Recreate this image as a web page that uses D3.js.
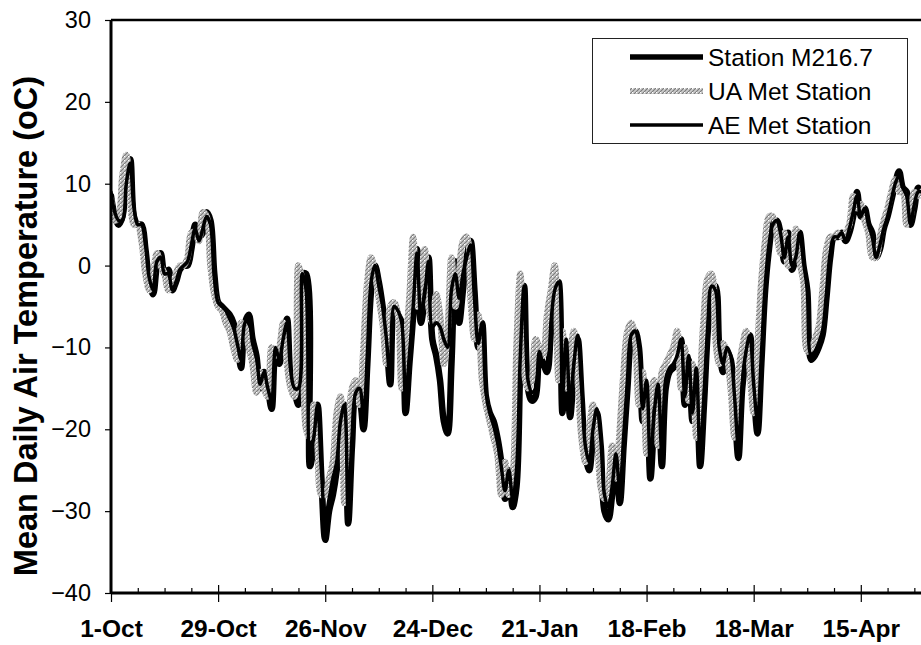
<!DOCTYPE html>
<html>
<head>
<meta charset="utf-8">
<script src="https://cdn.jsdelivr.net/npm/d3@7"></script>
<style>
  html, body { margin: 0; padding: 0; background: #fff; }
  svg { display: block; }
</style>
</head>
<body>
<svg id="chart" width="921" height="645"></svg>
<script>
// Day 0 = 1 October; one value per day through 1 May (day 212).
const dayCount = 212;

// Major tick positions (days since 1-Oct) and their labels.
const tickDays = [0, 28, 56, 84, 112, 140, 168, 196];
const tickLabels = ["1-Oct", "29-Oct", "26-Nov", "24-Dec", "21-Jan", "18-Feb", "18-Mar", "15-Apr"];
const minorTickDays = [7, 14, 21, 35, 42, 49, 63, 70, 77, 91, 98, 105, 119, 126, 133,
                       147, 154, 161, 175, 182, 189, 203, 210];
const yTicks = [-40, -30, -20, -10, 0, 10, 20, 30];

const seriesNames = ["Station M216.7", "UA Met Station", "AE Met Station"];

// Mean daily air temperature (oC), Station M216.7
const stationM = [
  8.5, 6, 5, 6, 11, 13, 6, 5, 5, 2,
  -2, -3.5, 0, 1.5, -1, -0.5, -3, -2, -0.5, 0,
  0, 2, 5, 3.5, 4, 6.5, 5.5, -1, -4.5, -5,
  -5.5, -6, -7, -9, -12.5, -7, -6, -9, -11, -15,
  -13, -15, -17.5, -10.5, -12, -9, -6.5, -14, -15.5, -17,
  -1, -1, -24.5, -22, -17, -26, -33.5, -30, -28, -25,
  -20, -17, -31.5, -22, -16, -16.5, -20, -12, -3, 0,
  -2, -5, -9, -14.5, -5, -6, -7, -18, -12, -6,
  2, -7, -4, 1, -9, -11, -14, -19, -20.5, -12,
  0.5, -7, -3, 1, 3, -3, -10, -7, -16, -18,
  -19, -21, -24, -28.5, -25, -29.5, -27, -12, -2.5, -15,
  -16.5, -16, -11, -12, -13, -8, -4, -2, -18, -9.5,
  -18.5, -13, -9, -16, -23, -25, -21, -18, -22, -30,
  -31, -28, -23.5, -29, -22, -15, -9, -8, -10, -19,
  -15, -26, -19, -15, -24.5, -15, -13, -12.5, -12, -9,
  -17, -11.5, -19, -13, -24.5, -17, -8, -3, -2.5, -10,
  -13, -10.5, -11.5, -17, -23.5, -15, -11, -8.5, -15, -20.5,
  -12, -3, 2, 5, 5.5, 4, 0.5, 4, -0.5, 1,
  4, 0, -3, -11.5, -11, -10, -8.5, -4, 1, 3.5,
  3.5, 4, 3, 4, 6, 9, 6, 7, 5, 4,
  1, 2, 4.5, 6, 8, 10, 11.5, 9.5, 9, 5,
  7, 9.5, 9
];

// Mean daily air temperature (oC), UA Met Station
const uaMet = [
  8, 5.5, 6, 11, 13.5, 8, 5, 5, 3, -1,
  -3, -1, 1.5, 0, -1, -3, -2.5, -1, 0, 0,
  1, 4, 4, 3, 6.5, 6, 0, -3.5, -5, -5.5,
  -7, -8, -10, -11.5, -7, -7.5, -10, -12, -15.5, -13,
  -15, -16, -10, -11, -10, -7, -12, -15, -16, 0,
  -2, -20, -21, -17, -22, -28, -28, -26, -24, -18,
  -16, -29, -20, -15, -14, -17, -10, -2, 1, -1,
  -4, -7, -12, -5, -4.5, -6, -15, -10, -4, 3.5,
  -5, -2, 2, -5, -7, -3.5, -6, -12, -8, 1,
  -5, -1, 3, 3.5, -4, -9, -6, -14, -17, -19,
  -21, -23, -28, -24, -28, -26, -10, -1, -13, -15,
  -14, -9, -10, -11, -6, -3, 0, -14, -8, -15,
  -11, -8, -14, -21, -24, -20, -17, -20, -27, -28.5,
  -27, -22, -26, -20, -13, -8, -7, -9, -17, -13,
  -23, -16, -14, -22, -13, -12, -11, -10, -8, -15,
  -10, -16.5, -12, -21, -14, -6, -1.5, -1, -9, -12,
  -9.5, -11, -15, -21, -13, -10, -8, -13, -18, -10,
  -2, 3, 6, 6, 4, 1.5, 4, 0, 1.5, 4.5,
  0.5, -2, -10.5, -10, -9, -7.5, -3, 2, 3.5, 3.5,
  4, 3.5, 4, 5, 8.5, 7, 7.5, 5.5, 4, 1,
  1, 3.5, 5.5, 7, 9, 10.5, 9, 9, 5, 6,
  9, 8.5, 9
];

// Mean daily air temperature (oC), AE Met Station
const aeMet = [
  9, 6.5, 5.5, 5.5, 10, 12.5, 7, 5, 5, 2.5,
  -1.5, -3, 0.5, 1, -1, -1, -3, -2, -0.5, 0,
  0.5, 2.5, 4.5, 3, 4.5, 6, 5, -1.5, -4.5, -5,
  -5.5, -6.5, -7.5, -9.5, -11.5, -7, -6.5, -9.5, -11, -14.5,
  -13, -15, -16.5, -10, -11.5, -9, -7, -13, -15, -15,
  -1, -3, -23, -21, -17, -25, -31, -28.5, -26, -24,
  -19, -17, -30, -21, -15.5, -15, -18.5, -11, -2, 0,
  -2.5, -5, -9, -14, -5, -5.5, -7, -16, -11, -5,
  1.5, -6, -3.5, 0.5, -7.5, -7, -7.5, -9, -10, -3,
  -1, -4, -1, 1, 2.5, -4, -9.5, -7, -15.5, -18,
  -19.5, -21.5, -24.5, -27.5, -25, -28.5, -25, -11, -2.5, -14,
  -15.5, -15, -10.5, -12, -12, -7, -3, -2, -16, -9,
  -17, -12, -8.5, -15, -22, -24, -20, -17.5, -21, -28,
  -29.5, -27, -23, -27.5, -21, -14, -8.5, -8, -10, -17.5,
  -14, -24.5, -18, -14.5, -23, -14, -12.5, -12, -11, -9,
  -16, -11, -18, -12.5, -23, -16, -7.5, -2.5, -3, -10,
  -12, -10, -11, -16, -22, -14.5, -10.5, -8.5, -14.5, -19,
  -11, -2.5, 2.5, 5, 5.5, 4, 1, 3.5, 0, 1,
  4, 0.5, -3, -11, -10.5, -9.5, -8, -3.5, 1.5, 3.5,
  3.5, 4, 3, 4.5, 6.5, 8.5, 6, 7, 5, 3.5,
  1, 2.5, 4.5, 6, 8, 10, 11, 9.5, 8.5, 5,
  7.5, 9, 9
];

const svg = d3.select("#chart");
const W = 921, H = 645;
const plot = { left: 111, top: 20, right: 922, bottom: 593 };
const FONT = "Liberation Sans, Arial, sans-serif";

const x = d3.scaleLinear().domain([0, dayCount]).range([plot.left, plot.right]);
const y = d3.scaleLinear().domain([-40, 30]).range([plot.bottom, plot.top]);

// Speckled grey texture used for the UA series
const defs = svg.append("defs");
const hatch = defs.append("pattern")
  .attr("id", "speckle")
  .attr("patternUnits", "userSpaceOnUse")
  .attr("width", 4).attr("height", 4);
hatch.append("rect").attr("width", 4).attr("height", 4).attr("fill", "#cdcdcd");
hatch.append("path").attr("d", "M0,4 L4,0 M-1,1 L1,-1 M3,5 L5,3")
  .attr("stroke", "#7a7a7a").attr("stroke-width", 1.1);
hatch.append("rect").attr("x", 0).attr("y", 0).attr("width", 1).attr("height", 1).attr("fill", "#fff");

const clip = defs.append("clipPath").attr("id", "plotClip");
clip.append("rect").attr("x", plot.left).attr("y", plot.top - 10)
  .attr("width", plot.right - plot.left).attr("height", plot.bottom - plot.top + 10);

// Series lines
const line = d3.line()
  .x((d, i) => x(i))
  .y(d => y(d))
  .curve(d3.curveCatmullRom.alpha(0.5));

const series = [
  { name: seriesNames[0], values: stationM, stroke: "#000", width: 6.5, legendWidth: 5.5 },
  { name: seriesNames[1], values: uaMet, stroke: "url(#speckle)", width: 6.5, legendWidth: 6 },
  { name: seriesNames[2], values: aeMet, stroke: "#000", width: 3.5, legendWidth: 3.5 }
];

const gLines = svg.append("g").attr("clip-path", "url(#plotClip)");
gLines.selectAll("path.series")
  .data(series)
  .join("path")
  .attr("class", "series")
  .attr("d", d => line(d.values))
  .attr("fill", "none")
  .attr("stroke", d => d.stroke)
  .attr("stroke-width", d => d.width)
  .attr("stroke-linejoin", "round")
  .attr("stroke-linecap", "round");

// Top frame line
svg.append("line")
  .attr("x1", plot.left).attr("x2", W)
  .attr("y1", plot.top).attr("y2", plot.top)
  .attr("stroke", "#000").attr("stroke-width", 2.4);

// Y axis
const yAxis = d3.axisLeft(y).tickValues(yTicks).tickSize(6).tickPadding(14).tickFormat(d3.format("d"));
const gy = svg.append("g").attr("transform", `translate(${plot.left},0)`).call(yAxis);
gy.select(".domain").attr("stroke-width", 3).attr("d", `M0,${plot.top}V${plot.bottom}`);
gy.selectAll(".tick line").attr("stroke-width", 1.2);
gy.selectAll(".tick text")
  .attr("font-family", FONT)
  .attr("font-size", 23.5).attr("fill", "#000");

// X axis, minor ticks (inside)
const xMinor = d3.axisBottom(x).tickValues(minorTickDays).tickSize(-5).tickFormat("");
const gxm = svg.append("g").attr("transform", `translate(0,${plot.bottom})`).call(xMinor);
gxm.select(".domain").remove();
gxm.selectAll(".tick line").attr("stroke-width", 1.2);

// X axis, major ticks crossing the axis line
const xAxis = d3.axisBottom(x).tickValues(tickDays).tickSize(9).tickPadding(18)
  .tickFormat((d, i) => tickLabels[i]);
const gx = svg.append("g").attr("transform", `translate(0,${plot.bottom})`).call(xAxis);
gx.select(".domain").attr("stroke-width", 3).attr("d", `M${plot.left},0H${W}`);
gx.selectAll(".tick line").attr("stroke-width", 1.2)
  .attr("y1", d => d === 0 ? 0 : -8);
gx.selectAll(".tick text")
  .attr("font-family", FONT)
  .attr("font-weight", "bold")
  .attr("font-size", 24.5).attr("fill", "#000");

// Y axis title
svg.append("text")
  .attr("transform", `translate(37,326) rotate(-90)`)
  .attr("text-anchor", "middle")
  .attr("font-family", FONT)
  .attr("font-weight", "bold")
  .attr("font-size", 32.5)
  .text("Mean Daily Air Temperature (oC)");

// Legend
const legend = svg.append("g");
legend.append("rect")
  .attr("x", 592.5).attr("y", 38.5).attr("width", 315).attr("height", 105)
  .attr("fill", "#fff").attr("stroke", "#222").attr("stroke-width", 1);
const rowY = [57, 91, 125];
series.forEach((s, i) => {
  legend.append("line")
    .attr("x1", 630).attr("x2", 703)
    .attr("y1", rowY[i]).attr("y2", rowY[i])
    .attr("stroke", s.stroke)
    .attr("stroke-width", s.legendWidth);
  legend.append("text")
    .attr("x", 708).attr("y", rowY[i])
    .attr("dy", "0.35em")
    .attr("font-family", FONT)
    .attr("font-size", 24.5)
    .text(s.name);
});
</script>
</body>
</html>
